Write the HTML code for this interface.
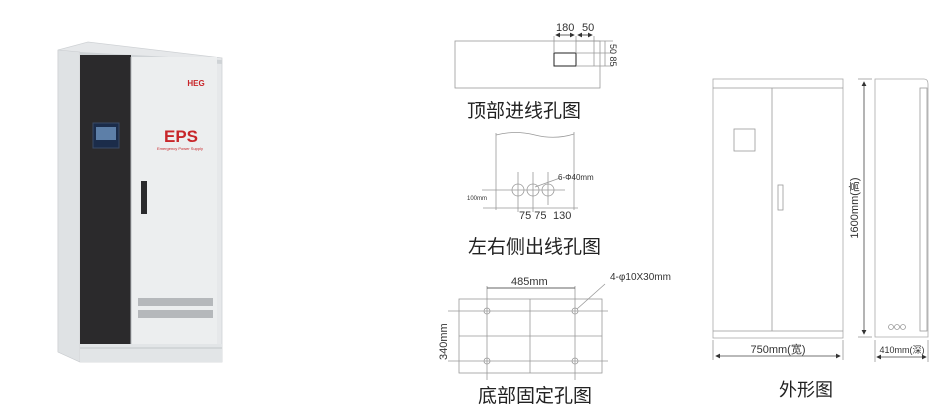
<!DOCTYPE html>
<html><head><meta charset="utf-8"><style>
html,body{margin:0;padding:0;background:#fff;width:945px;height:409px;overflow:hidden}
svg{display:block}
text{font-family:"Liberation Sans","Noto Sans CJK SC",sans-serif}
</style></head><body>
<svg width="945" height="409" viewBox="0 0 945 409" xmlns="http://www.w3.org/2000/svg">
<defs><marker id="a" markerWidth="6" markerHeight="6" refX="5" refY="3" orient="auto-start-reverse"><path d="M0,0 L6,3 L0,6 Z" fill="#333"/></marker></defs>
<!-- Cabinet photo -->
<polygon points="58,50 88,42 222,58 222,362 80,362 58,352" fill="#e6e8ea" stroke="#cfd2d5" stroke-width="0.8"/>
<polygon points="58,50 80,52 80,362 58,352" fill="#dfe2e4" stroke="#c8cbce" stroke-width="0.5"/>
<polygon points="80,52 222,60 222,64 80,56" fill="#cfd3d6"/>
<rect x="80" y="55" width="51" height="293" fill="#2b2a2c"/>
<rect x="131" y="57" width="86" height="287" fill="#eceeef"/>
<line x1="131" y1="57" x2="131" y2="344" stroke="#b5b8bb"/>
<rect x="80" y="344" width="142" height="18" fill="#e2e5e7"/>
<line x1="80" y1="348" x2="222" y2="348" stroke="#c3c6c9"/>
<rect x="93" y="123" width="26" height="25" fill="#1b2c4a" stroke="#3a4a66"/>
<rect x="96" y="127" width="20" height="13" fill="#5d7fa8"/>
<text x="181" y="142" font-size="17" font-weight="bold" fill="#c8262a" text-anchor="middle">EPS</text>
<text x="180" y="150" font-size="4" fill="#c8262a" text-anchor="middle">Emergency Power Supply</text>
<text x="196" y="86" font-size="8" font-weight="bold" fill="#c8262a" text-anchor="middle">HEG</text>
<rect x="141" y="181" width="6" height="33" fill="#2a2a2c"/>
<rect x="138" y="298" width="75" height="8" fill="#b5b8bb"/>
<rect x="138" y="310" width="75" height="8" fill="#b5b8bb"/>

<g stroke="#999" fill="none" stroke-width="0.8">
<!-- top view -->
<rect x="455" y="41" width="145" height="47"/>
<rect x="554" y="53" width="22" height="13" stroke="#222" stroke-width="1"/>
<line x1="554" y1="36" x2="554" y2="53"/><line x1="576" y1="36" x2="576" y2="53"/><line x1="594" y1="36" x2="594" y2="66"/>
<line x1="556" y1="35" x2="574" y2="35" stroke="#333" marker-start="url(#a)" marker-end="url(#a)"/>
<line x1="578" y1="35" x2="592" y2="35" stroke="#333" marker-start="url(#a)" marker-end="url(#a)"/>
<line x1="576" y1="41" x2="613" y2="41"/><line x1="576" y1="53" x2="613" y2="53"/><line x1="576" y1="66" x2="613" y2="66"/>
<line x1="605" y1="41" x2="605" y2="66"/>
<!-- side view -->
<path d="M496,135 Q515,130 535,135 T574,134"/>
<line x1="496" y1="133" x2="496" y2="210"/><line x1="574" y1="132" x2="574" y2="210"/>
<circle cx="518" cy="190" r="6"/><circle cx="533" cy="190" r="6"/><circle cx="548" cy="190" r="6"/>
<line x1="518" y1="172" x2="518" y2="212"/><line x1="533" y1="172" x2="533" y2="212"/><line x1="548" y1="172" x2="548" y2="205"/>
<line x1="482" y1="190" x2="565" y2="190"/><line x1="483" y1="208" x2="578" y2="208"/>
<line x1="535" y1="187" x2="560" y2="178"/>
<!-- bottom view -->
<rect x="459" y="299" width="143" height="74"/>
<line x1="487" y1="286" x2="487" y2="380"/><line x1="575" y1="286" x2="575" y2="380"/>
<line x1="530" y1="299" x2="530" y2="373"/>
<line x1="448" y1="311" x2="608" y2="311"/><line x1="448" y1="361" x2="608" y2="361"/><line x1="459" y1="336" x2="602" y2="336"/>
<line x1="487" y1="288" x2="575" y2="288" stroke="#333"/>
<circle cx="487" cy="311" r="3"/><circle cx="575" cy="311" r="3"/><circle cx="487" cy="361" r="3"/><circle cx="575" cy="361" r="3"/>
<line x1="577" y1="309" x2="605" y2="284"/>
<!-- front view -->
<rect x="713" y="79" width="130" height="259" stroke="#aaa"/>
<line x1="713" y1="88" x2="843" y2="88"/><line x1="713" y1="331" x2="843" y2="331"/>
<line x1="772" y1="88" x2="772" y2="331"/>
<rect x="734" y="129" width="21" height="22"/>
<rect x="778" y="185" width="5" height="25"/>
<line x1="713" y1="340" x2="713" y2="360"/><line x1="843" y1="340" x2="843" y2="360"/>
<line x1="716" y1="356" x2="840" y2="356" stroke="#444" marker-start="url(#a)" marker-end="url(#a)"/>
<!-- side -->
<path d="M875,79 H924 Q928,79 928,84 V337 H875 Z" stroke="#aaa"/>
<rect x="920" y="88" width="7" height="243"/>
<circle cx="891" cy="327" r="2.5"/><circle cx="897" cy="327" r="2.5"/><circle cx="903" cy="327" r="2.5"/>
<line x1="864" y1="82" x2="864" y2="334" stroke="#444" marker-start="url(#a)" marker-end="url(#a)"/>
<line x1="858" y1="79" x2="872" y2="79"/><line x1="858" y1="337" x2="872" y2="337"/>
<line x1="875" y1="340" x2="875" y2="362"/><line x1="928" y1="340" x2="928" y2="362"/>
<line x1="877" y1="357" x2="926" y2="357" stroke="#444" marker-start="url(#a)" marker-end="url(#a)"/>
</g>
<g fill="#333" font-size="11">
<text x="556" y="31">180</text><text x="582" y="31">50</text>
<text x="610" y="44" font-size="9" transform="rotate(90 610 44)">50 85</text>
<text x="558" y="180" font-size="8">6-Φ40mm</text>
<text x="467" y="200" font-size="6">100mm</text>
<text x="519" y="219">75 75</text><text x="553" y="219">130</text>
<text x="511" y="285">485mm</text>
<text x="610" y="280" font-size="10">4-φ10X30mm</text>
<text x="447" y="360" font-size="11" transform="rotate(-90 447 360)">340mm</text>
<text x="778" y="353" font-size="11" text-anchor="middle">750mm(宽)</text>
<text x="902" y="353" font-size="9" text-anchor="middle">410mm(深)</text>
<text x="858" y="208" font-size="11" text-anchor="middle" transform="rotate(-90 858 208)">1600mm(高)</text>
</g>
<g fill="#222" font-size="19">
<text x="467" y="117">顶部进线孔图</text>
<text x="468" y="253">左右侧出线孔图</text>
<text x="478" y="402">底部固定孔图</text>
<text x="806" y="396" text-anchor="middle" font-size="18">外形图</text>
</g>
</svg>
</body></html>
